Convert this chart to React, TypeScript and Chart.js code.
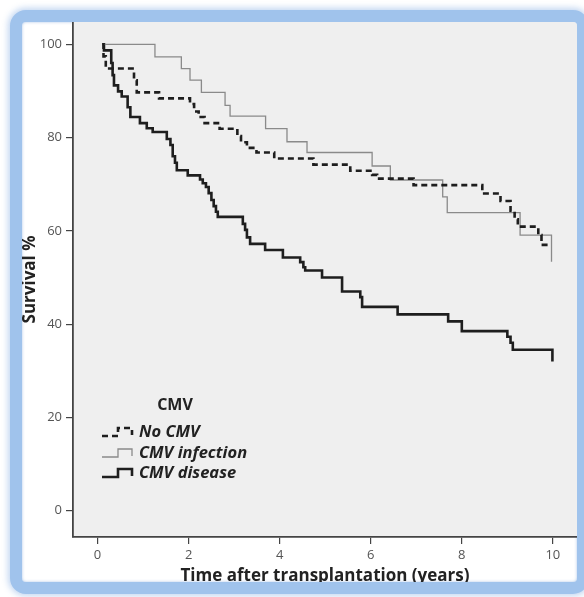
import React, { useEffect, useRef } from 'react';
import { Chart, registerables } from 'chart.js';

Chart.register(...registerables);

// ---- Data ----
const xTicks = [0, 2, 4, 6, 8, 10];
const yTicks = [0, 20, 40, 60, 80, 100];
const legendTitle = 'CMV';
const seriesNames = ['No CMV', 'CMV infection', 'CMV disease'];
const xTitle = 'Time after transplantation (years)';
const yTitle = 'Survival %';

const noCmvTimes = [0.10, 0.13, 0.18, 0.80, 0.86, 1.35, 2.03, 2.12, 2.22, 2.35, 2.68, 3.07, 3.15, 3.28, 3.49, 3.88, 4.74, 5.55, 6.03, 6.14, 6.94, 8.45, 8.85, 9.07, 9.16, 9.23, 9.68, 9.75, 9.95];
const noCmvSurvival = [100, 97.4, 94.8, 92.3, 89.7, 88.4, 87.2, 85.6, 84.4, 83.1, 81.9, 80.3, 79.0, 77.8, 76.8, 75.5, 74.2, 72.9, 72.0, 71.2, 69.8, 68.0, 66.4, 64.3, 62.5, 60.9, 59.1, 57.0, 57.0];

const infectionTimes = [0.11, 1.26, 1.84, 2.03, 2.28, 2.80, 2.91, 3.69, 4.16, 4.60, 6.03, 6.43, 7.58, 7.68, 9.28, 9.97];
const infectionSurvival = [100, 97.3, 94.8, 92.3, 89.7, 86.9, 84.6, 81.9, 79.1, 76.8, 73.9, 70.9, 67.3, 63.9, 59.1, 53.4];

const diseaseTimes = [0.11, 0.14, 0.30, 0.33, 0.36, 0.45, 0.53, 0.66, 0.72, 0.93, 1.08, 1.21, 1.52, 1.60, 1.65, 1.70, 1.74, 1.98, 2.25, 2.31, 2.38, 2.44, 2.50, 2.55, 2.60, 2.64, 3.19, 3.24, 3.28, 3.35, 3.68, 4.07, 4.45, 4.52, 4.56, 4.93, 5.37, 5.77, 5.81, 6.59, 7.70, 8.00, 9.00, 9.07, 9.12, 9.99];
const diseaseSurvival = [100, 98.7, 96.0, 93.4, 91.2, 89.9, 88.8, 86.5, 84.4, 83.1, 82.0, 81.2, 79.7, 78.4, 76.0, 74.6, 73.0, 71.9, 71.0, 70.2, 69.4, 68.1, 66.6, 65.3, 64.1, 63.0, 61.5, 60.2, 58.6, 57.2, 55.9, 54.3, 53.3, 52.2, 51.5, 50.0, 47.0, 45.8, 43.7, 42.1, 40.6, 38.5, 37.3, 36.0, 34.5, 32.0];

const toPoints = (t: number[], v: number[]) => t.map((x, i) => ({ x, y: v[i] }));

export default function App() {
  const ref = useRef<HTMLCanvasElement | null>(null);

  useEffect(() => {
    document.body.style.margin = '0';
    if (!ref.current) return;

    const bgPlugin = {
      id: 'plotBg',
      beforeDraw(chart: any) {
        const { ctx, chartArea: a } = chart;
        ctx.save();
        ctx.fillStyle = '#efefef';
        ctx.fillRect(a.left, a.top, a.right - a.left, a.bottom - a.top);
        ctx.restore();
      },
    };

    const legendPlugin = {
      id: 'kmLegend',
      afterDatasetsDraw(chart: any) {
        const { ctx, chartArea: a } = chart;
        ctx.save();
        ctx.fillStyle = '#222';
        ctx.font = 'bold 16px "Open Sans", sans-serif';
        ctx.textAlign = 'center';
        ctx.textBaseline = 'middle';
        ctx.fillText(legendTitle, a.left + 102, a.top + 383);
        const rows = [410, 431, 451];
        chart.data.datasets.forEach((ds: any, i: number) => {
          const y = a.top + rows[i];
          const x0 = a.left + 29;
          ctx.save();
          ctx.strokeStyle = ds.borderColor;
          ctx.lineWidth = ds.borderWidth;
          ctx.setLineDash(ds.borderDash || []);
          ctx.beginPath();
          ctx.moveTo(x0, y + 4);
          ctx.lineTo(x0 + 16, y + 4);
          ctx.lineTo(x0 + 16, y - 4);
          ctx.lineTo(x0 + 30, y - 4);
          ctx.lineTo(x0 + 30, y + 3);
          ctx.stroke();
          ctx.restore();
          ctx.fillStyle = '#222';
          ctx.font = 'italic bold 16.5px "Open Sans", sans-serif';
          ctx.textAlign = 'left';
          ctx.textBaseline = 'middle';
          ctx.fillText(ds.label, a.left + 66, y);
        });
        ctx.restore();
      },
    };

    const chart = new Chart(ref.current, {
      type: 'line',
      data: {
        datasets: [
          {
            label: seriesNames[0],
            data: toPoints(noCmvTimes, noCmvSurvival),
            borderColor: '#1e1e1e',
            borderWidth: 2.6,
            borderDash: [6, 4],
            stepped: true,
            pointRadius: 0,
            fill: false,
          },
          {
            label: seriesNames[1],
            data: toPoints(infectionTimes, infectionSurvival),
            borderColor: '#8a8a8a',
            borderWidth: 1.3,
            stepped: true,
            pointRadius: 0,
            fill: false,
          },
          {
            label: seriesNames[2],
            data: toPoints(diseaseTimes, diseaseSurvival),
            borderColor: '#1e1e1e',
            borderWidth: 2.6,
            stepped: true,
            pointRadius: 0,
            fill: false,
          },
        ],
      },
      options: {
        animation: false,
        responsive: false,
        layout: { padding: 0 },
        plugins: { legend: { display: false }, tooltip: { enabled: false } },
        scales: {
          x: {
            type: 'linear',
            min: -0.54,
            max: 10.53,
            afterBuildTicks: (s: any) => { s.ticks = xTicks.map((v) => ({ value: v })); },
            afterFit: (s: any) => { s.height = 60; s.paddingLeft = 0; s.paddingRight = 0; },
            grid: { display: true, drawOnChartArea: false, drawTicks: true, tickLength: 7, color: '#444', lineWidth: 1.2 },
            border: { display: true, color: '#444', width: 1.8 },
            ticks: { color: '#555', padding: 3, font: { family: '"Open Sans", sans-serif', size: 13 }, maxRotation: 0 },
            title: { display: true, text: xTitle, color: '#222', font: { family: '"Open Sans", sans-serif', size: 17, weight: 'bold', lineHeight: 1 }, padding: { top: 0, bottom: 12 } },
          },
          y: {
            type: 'linear',
            min: -5.64,
            max: 104.78,
            afterBuildTicks: (s: any) => { s.ticks = yTicks.map((v) => ({ value: v })); },
            afterFit: (s: any) => { s.width = 51; s.paddingTop = 0; s.paddingBottom = 0; },
            grid: { display: true, drawOnChartArea: false, drawTicks: true, tickLength: 7, color: '#444', lineWidth: 1.2 },
            border: { display: true, color: '#444', width: 1.8 },
            ticks: { color: '#555', padding: 4, font: { family: '"Open Sans", sans-serif', size: 13 } },
            title: { display: true, text: yTitle, color: '#222', font: { family: '"Open Sans", sans-serif', size: 17, weight: 'bold', lineHeight: 1 }, padding: { top: 0, bottom: 0 } },
          },
        },
      },
      plugins: [bgPlugin, legendPlugin],
    } as any);

    return () => chart.destroy();
  }, []);

  return (
    <div style={{ position: 'absolute', left: 0, top: 0, width: 584, height: 597, background: '#fff', overflow: 'hidden' }}>
      <div
        style={{
          position: 'absolute',
          left: 10,
          top: 10,
          width: 555,
          height: 560,
          border: '12px solid #a0c3ec',
          borderRadius: 16,
          boxShadow: '0 0 6px 2px rgba(120,165,225,0.45), inset 0 0 3px rgba(90,140,210,0.5)',
          overflow: 'hidden',
          background: '#fff',
        }}
      >
        <canvas ref={ref} width={555} height={575} style={{ display: 'block', width: 555, height: 575 }} />
      </div>
    </div>
  );
}
